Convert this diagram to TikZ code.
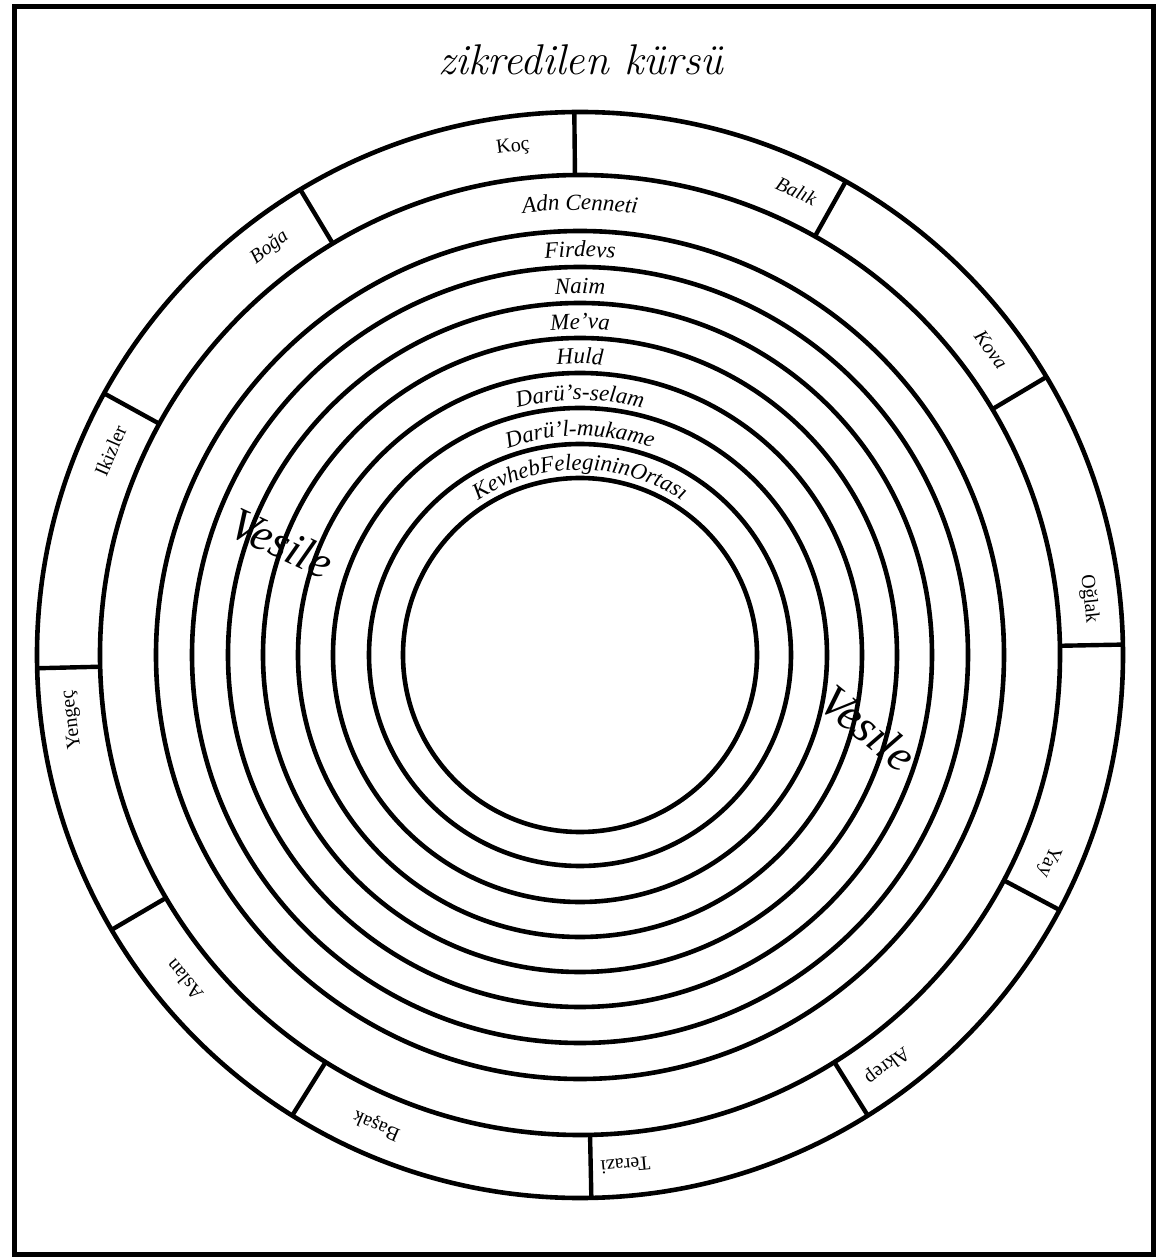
\documentclass[tikz,border=0pt]{standalone}
\usepackage{fontspec}
\newfontfamily\lserif{Liberation Serif}
\usetikzlibrary{decorations.text}
\begin{document}
\begin{tikzpicture}[x=1pt,y=1pt,
  ringline/.style={line width=4.6pt},
  divider/.style={line width=4.4pt},
  zod/.style={font=\lserif\fontsize{20}{22}\selectfont, inner sep=0pt},
  zodit/.style={font=\lserif\fontsize{20}{22}\selectfont\itshape, inner sep=0pt},
  vesile/.style={font=\lserif\fontsize{46}{50}\selectfont\itshape, inner sep=0pt}]
\useasboundingbox (-580,-602) rectangle (580,655);
\draw[line width=5pt] (-565,648) rectangle (573,-599);
\node[anchor=base, font=\fontsize{43}{48}\selectfont\itshape] (title) at (1,580) {zikredilen kürsü};
% circles
\foreach \r in {177,211,247,282,317,352,388,424,480,543}
  \draw[ringline] (0,0) circle[radius=\r pt];
% zodiac dividers
\foreach \a in {90.6,60.7,30.8,1.1,-28,-58,-88.8,-122,-149.6,-178.6,151.2,121}
  \draw[divider] (\a:480pt) -- (\a:543pt);
% zodiac labels
\node[zod,   rotate=7.5]    (koc)    at (97.5:512pt)  {Koç};
\node[zodit, rotate=-25]    (balik)  at (65:512pt)    {Balık};
\node[zodit, rotate=-53.4]  (kova)   at (36.6:512pt)  {Kova};
\node[zod,   rotate=-83.7]  (oglak)  at (6.3:512pt)   {Oğlak};
\node[zod,   rotate=-113.8] (yay)    at (-23.8:512pt) {Yay};
\node[zod,   rotate=-143.2] (akrep)  at (-53.2:512pt) {Akrep};
\node[zod,   rotate=-174.9] (terazi) at (-84.9:512pt) {Terazi};
\node[zod,   rotate=-203.4] (basak)  at (-113.4:512pt){Başak};
\node[zod,   rotate=-230.6] (aslan)  at (-140.6:512pt){Aslan};
\node[zod,   rotate=97.3]   (yengec) at (187.3:512pt) {Yengeç};
\node[zod,   rotate=66.5]   (ikizler) at (156.5:512pt){Ikizler};
\node[zodit, rotate=37.3]   (boga)   at (127.3:512pt) {Boğa};
% ring labels along arcs
\newcommand{\ringlabel}[2]{%
  \path[decorate, decoration={text along path, text align=center,
     text={|\lserif\fontsize{23}{25}\selectfont\itshape|#2}}]
     (170:#1pt) arc[start angle=170, end angle=10, radius=#1pt];}
\ringlabel{445}{Adn Cenneti}
\ringlabel{398}{Firdevs}
\ringlabel{361}{Naim}
\ringlabel{326}{Me’va}
\ringlabel{291}{Huld}
\ringlabel{255}{Darü’s-selam}
\ringlabel{219}{Darü’l-mukame}
\ringlabel{185}{KevhebFelegininOrtası}
% Vesile
\node[vesile, rotate=-25] (vesile1) at (-298,112) {Vesile};
\node[vesile, rotate=-39] (vesile2) at (288,-73) {Vesile};
\end{tikzpicture}
\end{document}
